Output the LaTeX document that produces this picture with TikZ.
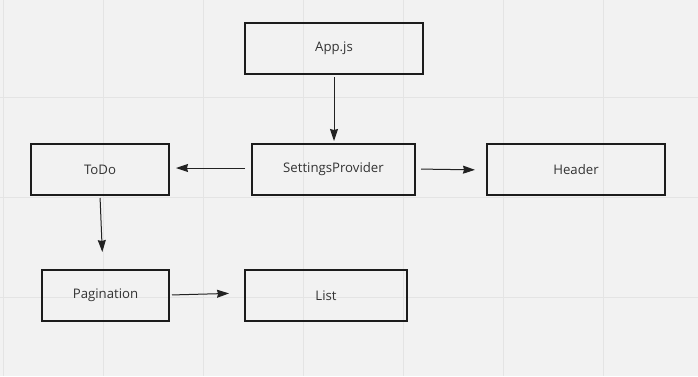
\documentclass[tikz,border=0pt]{standalone}
\usepackage{fontspec}
\setmainfont{Open Sans}
\usetikzlibrary{arrows.meta}
\definecolor{canvas}{HTML}{F2F2F2}
\definecolor{gridline}{HTML}{E4E4E4}
\definecolor{boxline}{HTML}{1C1C1C}
\definecolor{labeltext}{HTML}{333333}
\definecolor{linkline}{HTML}{222222}
\tikzset{
  compbox/.style={draw=boxline, line width=2pt, minimum height=51pt,
    inner sep=0pt, text=labeltext, font=\fontsize{13.2}{16}\selectfont},
  link/.style={draw=linkline, line width=1pt,
    -{Stealth[length=12pt, width=8pt, inset=1pt]}}
}
\begin{document}
\begin{tikzpicture}[x=1pt, y=-1pt]
  % canvas and grid
  \fill[canvas] (0,0) rectangle (698,376);
  \useasboundingbox (0,0) rectangle (698,376);
  \foreach \gx in {3,103,...,603} \draw[gridline, line width=1pt] (\gx,0) -- (\gx,376);
  \foreach \gy in {97,197,297} \draw[gridline, line width=1pt] (0,\gy) -- (698,\gy);

  % components
  \node[compbox, minimum width=178pt] (app)    at (334,48.5)   {App.js};
  \node[compbox, minimum width=163pt] (sp)     at (333.5,169.5) {SettingsProvider};
  \node[compbox, minimum width=138pt] (todo)   at (100,169.5)  {ToDo};
  \node[compbox, minimum width=178pt] (header) at (576,169.5)  {Header};
  \node[compbox, minimum width=127pt] (pag)    at (105.5,295.5) {Pagination};
  \node[compbox, minimum width=162pt] (list)   at (326,295.5)  {List};

  % connections
  \draw[link, shorten <=2pt, shorten >=2pt] (app.south) -- (sp.north -| app.south);
  \draw[link, shorten <=6pt, shorten >=6pt] ([yshift=1.5pt]sp.west) -- ([yshift=1.5pt]todo.east);
  \draw[link, shorten <=5pt, shorten >=11pt] ([yshift=0.5pt]sp.east) -- ([yshift=-0.5pt]header.west);
  \draw[link, shorten <=2pt, shorten >=17pt] (todo.south) -- ([xshift=-2.5pt]pag.north);
  \draw[link, shorten <=2pt, shorten >=15pt] ([yshift=0.5pt]pag.east) -- ([yshift=2.5pt]list.west);
\end{tikzpicture}
\end{document}
